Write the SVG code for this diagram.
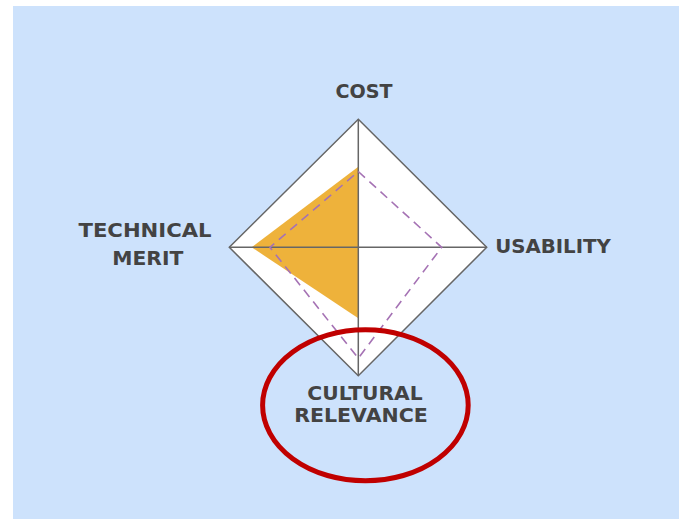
<svg xmlns="http://www.w3.org/2000/svg" width="679" height="519" viewBox="0 0 679 519">
<style>
.lbl{font-family:"DejaVu Sans","Liberation Sans",sans-serif;font-weight:bold;font-size:19px;fill:#434343;text-anchor:middle}
.ax{stroke:#666;stroke-width:1.5}
</style>
<rect x="0" y="0" width="679" height="519" fill="#ffffff"/>
<rect x="13" y="6" width="666" height="513" fill="#cde2fc"/>
<g id="chart">
<polygon points="358.3,119.3 486.7,247.3 358.3,375.7 229.3,247.3" style="fill:#ffffff" class="ax"/>
<polygon points="358.3,166.7 358.3,318.3 251.7,247.3" fill="#eeb23b"/>
<line x1="358.3" y1="119.3" x2="358.3" y2="375.7" class="ax"/>
<line x1="229.3" y1="247.3" x2="486.7" y2="247.3" class="ax"/>
<polygon points="358.3,171.5 441.7,247.3 358.3,358.3 270,247.3" fill="none" stroke="#a572b4" stroke-width="1.6" stroke-dasharray="9,6"/>
</g>
<g id="cost"><text class="lbl" x="364" y="98.3" textLength="57" lengthAdjust="spacingAndGlyphs">COST</text></g>
<g id="usability"><text class="lbl" x="553" y="253.3" textLength="115.7" lengthAdjust="spacingAndGlyphs">USABILITY</text></g>
<g id="technical-merit">
<text class="lbl" x="145" y="236.7" textLength="133" lengthAdjust="spacingAndGlyphs">TECHNICAL</text>
<text class="lbl" x="147.8" y="265" textLength="71" lengthAdjust="spacingAndGlyphs">MERIT</text>
</g>
<g id="cultural-relevance">
<text class="lbl" x="365" y="400" textLength="115.4" lengthAdjust="spacingAndGlyphs">CULTURAL</text>
<text class="lbl" x="361" y="421.7" textLength="133.7" lengthAdjust="spacingAndGlyphs">RELEVANCE</text>
</g>
<g id="highlight">
<ellipse cx="365.4" cy="405.3" rx="102.8" ry="75.5" fill="none" stroke="#c00000" stroke-width="5"/>
</g>
</svg>
